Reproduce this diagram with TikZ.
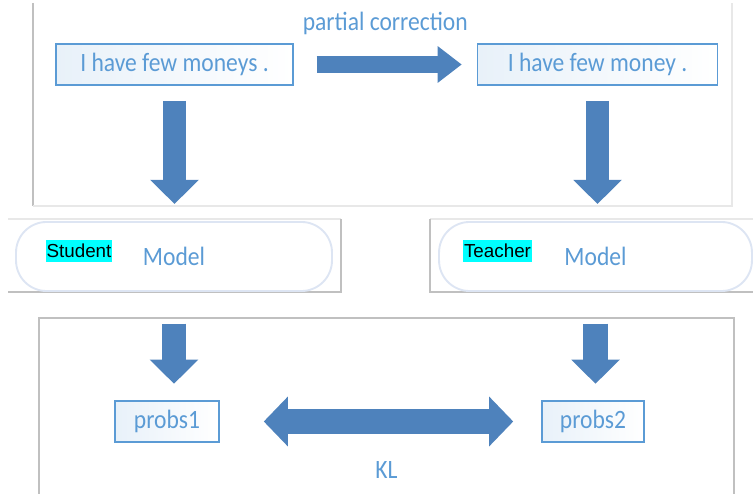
\documentclass[tikz,border=0pt]{standalone}
\usepackage{fontspec}
\setmainfont{Carlito}[FakeStretch=0.89]
\newfontfamily\tagfont{Liberation Sans}
\usetikzlibrary{arrows.meta,positioning}
\definecolor{textblue}{RGB}{91,155,213}
\definecolor{arrowblue}{RGB}{78,130,188}
\definecolor{pillgray}{RGB}{221,229,243}
\definecolor{framegray}{RGB}{192,192,192}
\definecolor{framelight}{RGB}{232,232,232}
\definecolor{tagcyan}{RGB}{0,255,255}
\tikzstyle{sentence} = [rectangle, draw=textblue, line width=1.3pt, left color=textblue!14, right color=white, text=textblue, font=\fontsize{22.5}{26}\selectfont, minimum height=34.9pt, inner sep=0pt]
\tikzstyle{model} = [rectangle, rounded corners=26pt, draw=pillgray, line width=1.6pt, fill=white, text=textblue, font=\fontsize{22.5}{26}\selectfont, minimum height=58.7pt]
\tikzstyle{tag} = [fill=tagcyan, text=black, font=\tagfont\fontsize{16}{19}\selectfont, inner xsep=0.5pt, inner ysep=0pt, minimum height=18.7pt]
\tikzstyle{fat} = [arrowblue, -{Triangle[width=40pt,length=20.4pt]}]

\begin{document}
\begin{tikzpicture}[x=0.85pt,y=-0.85pt]
      \useasboundingbox (0,0) rectangle (753,494);
      % frames
      \draw[framegray, line width=0.9pt] (33,3) -- (33,206);
      \draw[framelight, line width=0.9pt] (33,206) -- (732,206) -- (732,3);
      \draw[framelight, line width=0.9pt] (8,219) -- (341,219);
      \draw[framegray, line width=0.9pt] (341,219) -- (341,292) -- (8,292);
      \draw[framelight, line width=0.9pt] (753,219) -- (430,219);
      \draw[framegray, line width=0.9pt] (430,219) -- (430,292) -- (753,292);
      \draw[framegray, line width=0.9pt] (39,494) -- (39,318) -- (734,318) -- (734,494);
      %
      \node[sentence, minimum width=201.5pt] (Wrong) at (174.5,64.5) {I have few moneys .};
      \node[sentence, minimum width=204pt, right=155.5pt of Wrong] (Right) {I have few money .};
      \node[model, minimum width=268.6pt] (StudentModel) at (174,256.5) {Model};
      \node[model, minimum width=266pt] (TeacherModel) at (595.5,256.5) {Model};
      \node[tag] (StudentTag) at (79,251) {Student};
      \node[tag] (TeacherTag) at (497.5,251) {Teacher};
      \node[sentence, minimum width=88.4pt] (Probs1) at (167,421.5) {probs1};
      \node[sentence, minimum width=86.7pt] (Probs2) at (593,421.5) {probs2};
      %
      \draw[arrowblue, line width=14.5pt, -{Triangle[width=29.8pt,length=20.4pt]}, shorten <=19.5pt, shorten >=12.75pt] (Wrong) -- node[above=15pt, text=textblue, font=\fontsize{22.5}{26}\selectfont] {partial correction} (Right);
      \draw[fat, line width=19pt, shorten <=12.75pt, shorten >=14.5pt] (Wrong.south) -- (Wrong.south |- StudentModel.north);
      \draw[fat, line width=19pt, shorten <=12.75pt, shorten >=14.5pt] (Right.south) -- (Right.south |- TeacherModel.north);
      \draw[fat, line width=21pt, shorten <=27pt, shorten >=14pt] (StudentModel.south) -- (StudentModel.south |- Probs1.north);
      \draw[fat, line width=21pt, shorten <=27pt, shorten >=14pt] (TeacherModel.south) -- (TeacherModel.south |- Probs2.north);
      \draw[arrowblue, line width=22pt, {Triangle[width=41pt,length=20.4pt]}-{Triangle[width=41pt,length=20.4pt]}, shorten <=37.4pt, shorten >=23.8pt] (Probs1) -- node[below=19.5pt, xshift=5pt, text=textblue, font=\fontsize{22.5}{26}\selectfont] {KL} (Probs2);
    \end{tikzpicture}
\end{document}
